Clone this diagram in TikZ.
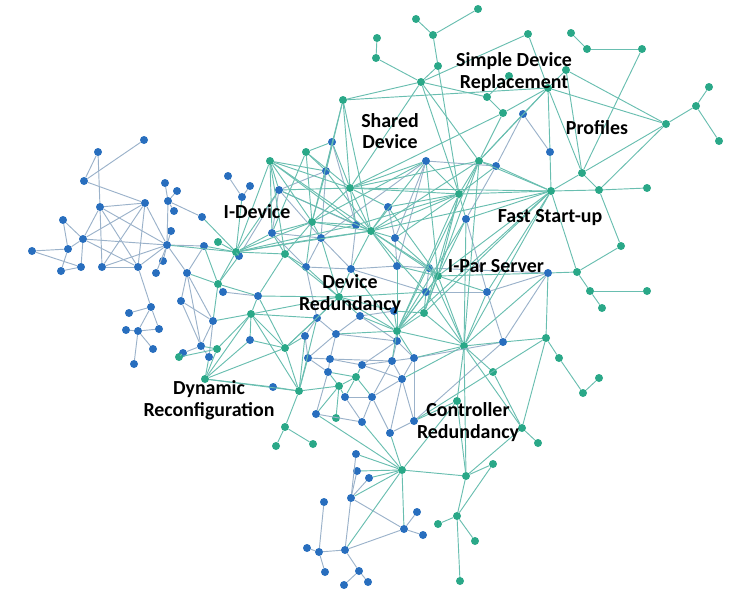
\documentclass[tikz,border=0pt]{standalone}
\usepackage{fontspec}
\setmainfont{Carlito}
\definecolor{dotblue}{RGB}{40,110,190}
\definecolor{dotgreen}{RGB}{42,168,136}
\definecolor{linkteal}{RGB}{105,190,176}
\definecolor{linkblue}{RGB}{155,178,202}
\begin{document}
\begin{tikzpicture}[x=0.03cm,y=-0.03cm,
  bdot/.style={circle,fill=dotblue,inner sep=0pt,minimum size=0.24cm},
  gdot/.style={circle,fill=dotgreen,inner sep=0pt,minimum size=0.24cm},
  bl/.style={draw=linkblue,line width=0.8pt},
  tl/.style={draw=linkteal,line width=0.8pt},
  lbl/.style={font=\fontsize{17}{18.5}\selectfont\bfseries,align=center}]
  \useasboundingbox (0,0) rectangle (732,588);

  \foreach \n/\x/\y in {b1/144/140, b2/98/152, b3/84/181, b4/145/203, b5/100/207, b6/63/220, b7/83/239,
    b8/68/249, b9/32/251, b10/81/267, b11/61/271, b12/102/267, b13/138/267, b14/156/273, b15/167/245,
    b16/163/261, b17/171/231, b18/165/183, b19/177/191, b20/168/201, b21/174/211, b22/202/217,
    b23/204/246, b24/239/256, b25/187/273, b26/223/292, b27/181/301, b28/213/321, b29/151/307,
    b30/129/313, b31/126/330, b32/138/331, b33/159/329, b34/153/349, b35/134/364, b36/201/346,
    b37/183/353, b38/209/357, b39/228/176, b40/242/197, b41/250/186, b42/332/142, b43/426/161,
    b44/326/171, b45/279/190, b46/388/207, b47/356/225, b48/272/233, b49/321/238, b50/395/238,
    b51/306/267, b52/351/269, b53/397/266, b54/429/268, b55/258/296, b56/426/292, b57/394/311,
    b58/317/318, b59/360/316, b60/336/334, b61/397/341, b62/305/336, b63/250/340, b64/308/358,
    b65/330/359, b66/362/365, b67/392/361, b68/414/358, b69/523/114, b70/550/152, b71/496/166,
    b72/466/219, b73/548/273, b74/487/292, b75/503/342, b76/402/379, b77/414/421, b78/328/372,
    b79/273/387, b80/345/397, b81/372/397, b82/316/414, b83/362/422, b84/390/433, b85/356/454,
    b86/357/471, b87/369/478, b88/351/498, b89/324/502, b90/417/512, b91/404/529, b92/423/535,
    b93/307/548, b94/319/552, b95/345/550, b96/325/572, b97/359/571, b98/344/585, b99/368/582}
    \node[bdot] (\n) at (\x,\y) {};

  \foreach \n/\x/\y in {g1/218/242, g2/236/252, g3/218/284, g4/217/349, g5/179/357, g6/306/152,
    g7/270/161, g8/350/188, g9/312/222, g10/371/231, g11/285/254, g12/438/276, g13/339/297,
    g14/251/314, g15/424/313, g16/397/331, g17/285/348, g18/478/9, g19/416/19, g20/433/35,
    g21/528/34, g22/571/33, g23/587/49, g24/642/49, g25/438/66, g26/566/70, g27/509/76, g28/421/82,
    g29/548/88, g30/709/87, g31/487/97, g32/696/106, g33/503/113, g34/666/124, g35/719/141,
    g36/479/161, g37/582/173, g38/459/194, g39/551/191, g40/599/190, g41/647/188, g42/621/246,
    g43/377/38, g44/376/58, g45/343/100, g46/577/272, g47/590/291, g48/647/291, g49/602/308,
    g50/546/338, g51/464/346, g52/559/358, g53/493/372, g54/599/378, g55/583/393, g56/457/401,
    g57/522/428, g58/538/443, g59/356/377, g60/205/379, g61/299/391, g62/339/386, g63/336/418,
    g64/285/427, g65/276/446, g66/313/444, g67/402/470, g68/466/476, g69/493/464, g70/457/516,
    g71/438/524, g72/475/541, g73/460/581}
    \node[gdot] (\n) at (\x,\y) {};

  \foreach \a/\b in {b1/b3, b2/b3, b2/b5, b3/b4, b4/b5, b4/b7, b4/b12, b4/b13, b4/b15, b5/b7, b5/b12,
    b5/b13, b5/b15, b6/b7, b6/b8, b7/b8, b7/b10, b7/b15, b7/b13, b8/b9, b9/b10, b8/b11, b10/b11,
    b12/b15, b12/b13, b13/b15, b13/b29, b14/b15, b15/b16, b15/b17, b18/b20, b19/b20, b20/b15,
    b21/b20, b22/b20, b15/b23, b15/b25, b23/b25, b25/b27, b25/b28, b25/b36, b27/b28, b27/b36,
    b28/b36, b28/b38, b29/b30, b29/b32, b29/b33, b31/b32, b32/b33, b32/b34, b32/b35, b36/b37,
    b36/b38, b39/b40, b40/b41, b24/b45, b26/b55, b42/b44, b42/b47, b44/b49, b44/b45, b45/b47,
    b45/b48, b45/b49, b43/b50, b43/b53, b43/b49, b46/b50, b47/b52, b48/b51, b48/b49, b49/b52,
    b49/b51, b50/b53, b51/b58, b51/b52, b52/b53, b52/b56, b53/b54, b54/b73, b54/b56, b56/b74,
    b57/b59, b58/b62, b58/b60, b59/b60, b59/b61, b60/b65, b60/b61, b60/b64, b61/b67, b61/b68,
    b61/b66, b62/b64, b64/b65, b64/b78, b65/b66, b65/b78, b65/b67, b66/b67, b66/b76, b67/b68,
    b67/b76, b67/b81, b68/b77, b68/b75, b68/b76, b72/b71, b72/b74, b74/b75, b74/b73, b75/b73,
    b75/b77, b76/b77, b76/b84, b76/b81, b78/b82, b80/b83, b80/b81, b81/b83, b81/b84, b82/b83,
    b77/b84, b85/b88, b86/b88, b87/b88, b88/b95, b88/b91, b89/b94, b93/b94, b94/b95, b94/b96,
    b95/b97, b95/b91, b97/b98, b97/b99, b91/b90, b91/b92, b69/b70, b69/b71, b43/b71}
    \draw[bl] (\a) -- (\b);

  \foreach \a/\b in {g1/g2, g2/b24, g2/g7, g2/b45, g2/g9, g2/b48, g2/g11, g2/b49, g2/g3, g2/b22,
    g2/b15, g2/b23, g2/g10, g2/b47, g2/b40, g3/b23, g3/b25, g3/b28, g3/b26, g3/b55, g3/b24, g4/b36,
    g4/g5, g5/b37, g7/b45, g7/g9, g7/g8, g7/b48, g7/g11, g7/b47, g7/g10, g7/b44, g6/b44, g6/g8,
    g6/g9, g6/b48, g6/b42, g45/g28, g45/b44, g45/g8, g45/g9, g45/g10, b44/g9, b44/g10, g8/g28,
    g8/b43, g8/g38, g8/g36, g8/b46, g8/g10, g8/b47, g8/b45, g8/g9, g8/g33, g8/g39, g8/b42,
    b43/g10, b43/g12, b43/g9, b43/g38, g9/b48, g9/g11, g9/b47, g9/g10, g9/b49, g9/b51, b45/g10,
    b46/g10, b46/g12, b46/g38, b47/g10, b47/g38, g10/b50, g10/b53, g10/g12, g10/b54, g10/b52,
    g10/g36, g10/g39, g10/g38, g10/b49, g10/b56, b48/g11, b49/g13, b50/g12, b50/g38, g11/b51,
    g11/b55, g11/g13, b51/g13, b52/g13, b53/g12, b53/g16, b54/g12, g12/b73, g12/g38, g12/g39,
    g12/b72, g12/g16, g12/b56, g12/b74, g12/g15, g12/g51, b55/g14, b55/g13, b55/g17, g13/g14,
    g13/b57, g13/b59, g13/g16, g13/b58, g13/g17, g13/b56, b56/g15, b56/g16, g14/g60, g14/g61,
    g14/b58, g14/g17, g14/b63, g14/b28, g14/g4, g15/g16, g15/g39, g15/g36, g15/g38, g15/b57,
    b57/g16, b58/g61, b59/g16, b60/g16, g16/b61, g16/g38, g16/g36, g16/g39, g16/g51, g16/b72,
    g16/b68, g16/b67, g16/b52, b62/g61, b63/g60, b63/g17, g17/g61, g17/g60, g17/b58, g17/b62,
    b64/g61, b66/g59, b68/g51, g51/b75, g51/g53, g51/g39, g51/b72, g51/g36, g51/b56, g51/b74,
    g51/b76, g51/g56, g51/g57, g51/g15, g51/b54, g51/b73, b72/g38, b72/g39, b74/g39, b75/g50,
    g53/g57, g56/b77, g56/g67, g56/g68, b77/g50, g59/g62, g59/b81, g59/b78, g59/b80, b78/g62,
    g60/b79, g60/g61, g60/b38, g60/g4, b79/g61, g61/g64, g61/g62, g62/g63, g62/b80, g62/b82,
    b82/g67, b83/g67, b84/g67, g64/g65, g64/g66, b85/g67, b86/g67, b87/g67, b88/g67, b95/g67,
    g67/b91, g67/g68, g68/g69, g69/g70, g68/g70, g70/g71, g70/g72, g70/g73, g68/g57, g68/g51,
    g57/g50, g57/g58, g50/b73, g50/g52, g52/g55, g55/g54, b73/g46, g46/g42, g46/g47, g46/g39,
    g47/g48, g47/g49, g42/g40, g18/g20, g19/g20, g20/g25, g25/g28, g25/g38, g28/g21, g28/g31,
    g28/g38, g28/g36, g44/g43, g44/g28, g21/g29, g22/g23, g23/g24, g24/g37, g26/g34, g26/g37,
    g26/g29, g27/g31, g29/g33, g29/b70, g29/b69, g29/g37, g29/g36, g29/g34, g31/g33, g33/g36,
    b69/g36, b70/g39, g32/g30, g32/g35, g32/g34, g34/g37, g34/g40, g37/g39, g37/g40, g39/g40,
    g40/g41, g36/g38, g36/b71, g36/g39, b71/g39, b71/g38, g38/g39, g29/g45}
    \draw[tl] (\a) -- (\b);

  \node[lbl] (sdr) at (514,72) {Simple Device\\Replacement};
  \node[lbl] (shd) at (390,131) {Shared\\Device};
  \node[lbl] (prf) at (597,128) {Profiles};
  \node[lbl] (idv) at (257,212) {I-Device};
  \node[lbl] (fsu) at (550,218) {Fast Start-up};
  \node[lbl] (ips) at (496,266) {I-Par Server};
  \node[lbl] (dvr) at (350,294) {Device\\Redundancy};
  \node[lbl] (dyn) at (209,400) {Dynamic\\Reconfiguration};
  \node[lbl] (ctr) at (468,422) {Controller\\Redundancy};
\end{tikzpicture}
\end{document}
